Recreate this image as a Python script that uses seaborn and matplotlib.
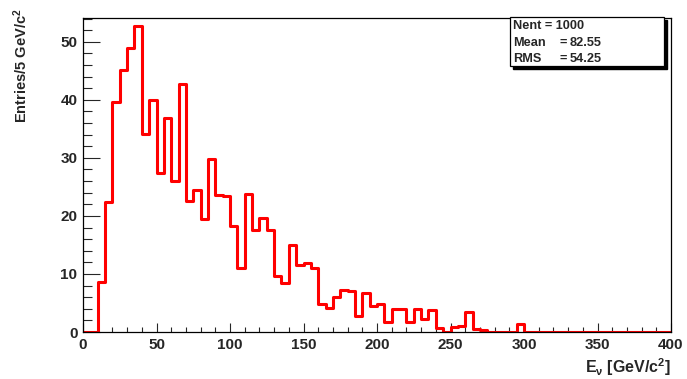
import numpy as np
import pandas as pd
import matplotlib
matplotlib.use("Agg")
import matplotlib.pyplot as plt
from matplotlib.ticker import MultipleLocator
from matplotlib.patches import Rectangle
import seaborn as sns

# Neutrino energy spectrum, entries per 5 GeV/c^2 bin from 0 to 400
bin_edges = list(range(0, 405, 5))
entries = [
    0.0, 0.0, 8.6, 22.4, 39.7, 45.2, 48.9, 52.8, 34.2, 39.9,
    27.4, 36.8, 26.0, 42.7, 22.5, 24.4, 19.4, 29.8, 23.6, 23.4,
    18.3, 11.0, 23.7, 17.6, 19.7, 17.5, 9.6, 8.5, 15.0, 11.5,
    11.9, 11.1, 4.9, 4.2, 6.0, 7.3, 7.0, 2.8, 6.7, 4.5,
    4.8, 1.8, 3.9, 4.0, 1.8, 3.9, 2.3, 3.8, 0.7, 0.0,
    0.9, 1.1, 3.4, 0.5, 0.3, 0.0, 0.0, 0.0, 0.0, 1.4,
    0.0, 0.0, 0.0, 0.0, 0.0, 0.0, 0.0, 0.0, 0.0, 0.0,
    0.0, 0.0, 0.0, 0.0, 0.0, 0.0, 0.0, 0.0, 0.0, 0.0,
]
stats_labels = ["Nent", "Mean", "RMS"]
stats_values = ["1000", "82.55", "54.25"]

sns.set_style("white")
plt.rcParams["font.family"] = ["Liberation Sans", "DejaVu Sans"]
plt.rcParams["font.weight"] = "bold"
plt.rcParams["mathtext.fontset"] = "custom"
plt.rcParams["mathtext.rm"] = "Liberation Sans:bold"
plt.rcParams["mathtext.it"] = "Liberation Sans:bold"
plt.rcParams["mathtext.bf"] = "Liberation Sans:bold"

W, H = 687, 379
fig = plt.figure(figsize=(W / 100, H / 100), dpi=100)
ax = fig.add_axes([83 / W, 1 - 332 / H, (671 - 83) / W, (332 - 18) / H])

centers = [(a + b) / 2 for a, b in zip(bin_edges[:-1], bin_edges[1:])]
df = pd.DataFrame({"E": centers, "w": entries})
sns.histplot(data=df, x="E", weights="w", bins=bin_edges, element="step",
             fill=False, color="#ff0000", linewidth=2.2, ax=ax, zorder=2)

ax.set_xlim(0, 400)
ax.set_ylim(0, 54.1)
ax.set_xlabel("")
ax.set_ylabel("")

for s in ax.spines.values():
    s.set_color("black")
    s.set_linewidth(0.9)
    s.set_zorder(3)

ax.xaxis.set_major_locator(MultipleLocator(50))
ax.xaxis.set_minor_locator(MultipleLocator(10))
ax.yaxis.set_major_locator(MultipleLocator(10))
ax.yaxis.set_minor_locator(MultipleLocator(2))
ax.tick_params(axis="x", which="major", direction="in", length=6.5, width=0.8,
               labelsize=11, pad=4, top=False, bottom=True)
ax.tick_params(axis="x", which="minor", direction="in", length=3.3, width=0.8,
               top=False, bottom=True)
ax.tick_params(axis="y", which="major", direction="in", length=12.5, width=0.8,
               labelsize=11, pad=4, left=True, right=False)
ax.tick_params(axis="y", which="minor", direction="in", length=6.5, width=0.8,
               left=True, right=False)
for lab in ax.get_xticklabels() + ax.get_yticklabels():
    lab.set_fontweight("bold")

# Axis titles, aligned to the axis ends
fig.text(21 / W, 1 - 8 / H, r"Entries/5 GeV/c$^{2}$", rotation=90,
         ha="center", va="top", fontsize=10.5, fontweight="bold")
fig.text(671 / W, 1 - 367 / H, r"E$_{\nu}$ [GeV/c$^{2}$]",
         ha="right", va="center", fontsize=11.5, fontweight="bold")

# Statistics box with drop shadow
bx0, by0, bx1, by1 = 510, 17, 664, 66
bw, bh = (bx1 - bx0) / W, (by1 - by0) / H
fig.patches.append(Rectangle(((bx0 + 3) / W, 1 - (by1 + 3) / H), bw, bh,
                             transform=fig.transFigure, facecolor="black",
                             edgecolor="black", zorder=4))
fig.patches.append(Rectangle((bx0 / W, 1 - by1 / H), bw, bh,
                             transform=fig.transFigure, facecolor="white",
                             edgecolor="black", linewidth=0.9, zorder=5))
line_y = [26, 43, 59]
fs = 9.2
fig.text(513 / W, 1 - line_y[0] / H, f"{stats_labels[0]} = {stats_values[0]}",
         ha="left", va="center", fontsize=fs, fontweight="bold", zorder=6)
for lbl, val, yy in zip(stats_labels[1:], stats_values[1:], line_y[1:]):
    fig.text(513 / W, 1 - yy / H, lbl, ha="left", va="center",
             fontsize=fs, fontweight="bold", zorder=6)
    fig.text(559 / W, 1 - yy / H, "=", ha="left", va="center",
             fontsize=fs, fontweight="bold", zorder=6)
    fig.text(602 / W, 1 - yy / H, val, ha="right", va="center",
             fontsize=fs, fontweight="bold", zorder=6)

fig.savefig("out.png", dpi=100, facecolor="white")
